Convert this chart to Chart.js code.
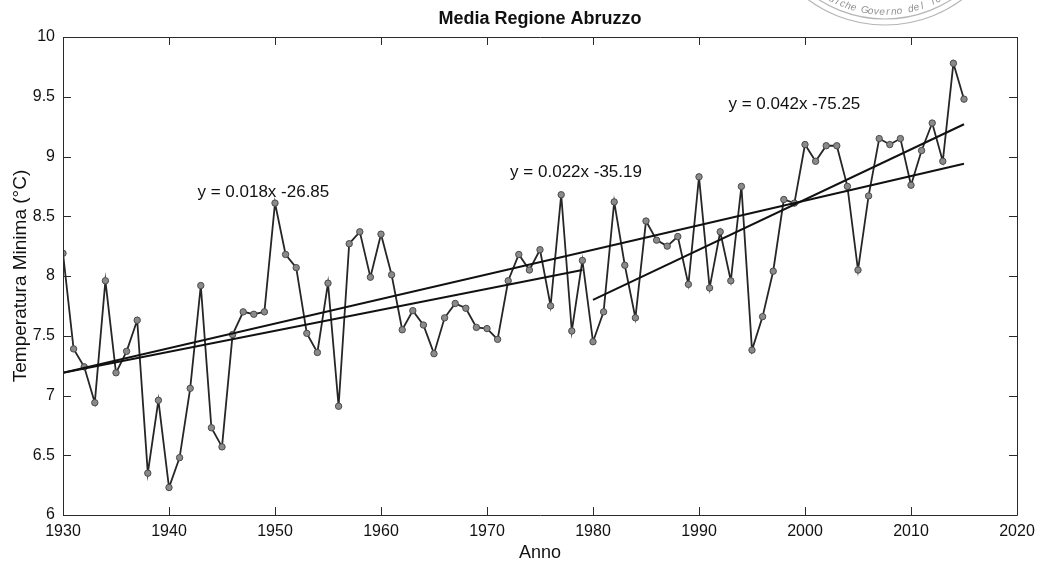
<!DOCTYPE html>
<html>
<head>
<meta charset="utf-8">
<script src="https://cdn.jsdelivr.net/npm/chart.js@4.4.1/dist/chart.umd.min.js"></script>
<style>
  html, body { margin: 0; padding: 0; background: #ffffff; }
  #wrap { width: 1038px; height: 563px; position: relative; }
</style>
</head>
<body>
<div id="wrap"><canvas id="c" width="1038" height="563"></canvas></div>
<script>
// ---- data ----
const years = [1930,1931,1932,1933,1934,1935,1936,1937,1938,1939,
               1940,1941,1942,1943,1944,1945,1946,1947,1948,1949,
               1950,1951,1952,1953,1954,1955,1956,1957,1958,1959,
               1960,1961,1962,1963,1964,1965,1966,1967,1968,1969,
               1970,1971,1972,1973,1974,1975,1976,1977,1978,1979,
               1980,1981,1982,1983,1984,1985,1986,1987,1988,1989,
               1990,1991,1992,1993,1994,1995,1996,1997,1998,1999,
               2000,2001,2002,2003,2004,2005,2006,2007,2008,2009,
               2010,2011,2012,2013,2014,2015];
const tempMin = [8.19,7.39,7.24,6.94,7.96,7.19,7.37,7.63,6.35,6.96,
                 6.23,6.48,7.06,7.92,6.73,6.57,7.51,7.70,7.68,7.70,
                 8.61,8.18,8.07,7.52,7.36,7.94,6.91,8.27,8.37,7.99,
                 8.35,8.01,7.55,7.71,7.59,7.35,7.65,7.77,7.73,7.57,
                 7.56,7.47,7.96,8.18,8.05,8.22,7.75,8.68,7.54,8.13,
                 7.45,7.70,8.62,8.09,7.65,8.46,8.30,8.25,8.33,7.93,
                 8.83,7.90,8.37,7.96,8.75,7.38,7.66,8.04,8.64,8.61,
                 9.10,8.96,9.09,9.09,8.75,8.05,8.67,9.15,9.10,9.15,
                 8.76,9.05,9.28,8.96,9.78,9.48];

// trend lines: endpoints
const trendAllX = [1930, 2015];
const trendAllY = [7.19, 8.94];
const trendEarlyX = [1930, 1979];
const trendEarlyY = [7.19, 8.05];
const trendLateX = [1980, 2015];
const trendLateY = [7.80, 9.27];

// equation labels and their anchor (data coords)
const eqLabels = ["y = 0.018x -26.85", "y = 0.022x -35.19", "y = 0.042x -75.25"];
const eqX = [1948.9, 1978.4, 1999.0];
const eqY = [8.70, 8.87, 9.44];

const chartTitle = "Media Regione Abruzzo";
const xTicks = [1930,1940,1950,1960,1970,1980,1990,2000,2010,2020];
const yTicks = [6,6.5,7,7.5,8,8.5,9,9.5,10];

const FONT = "'Liberation Sans', Arial, Helvetica, sans-serif";

function pts(xs, ys) { return xs.map((x, i) => ({x: x, y: ys[i]})); }

// title over the plot box, inward ticks, box, equations, stamp
const decor = {
  id: 'decor',
  afterDatasetsDraw(chart) {
    const {ctx, chartArea: a, scales: {x, y}} = chart;
    ctx.save();
    ctx.strokeStyle = '#2a2a2a';
    ctx.lineWidth = 1;
    ctx.beginPath();
    ctx.rect(Math.round(a.left) + 0.5, Math.round(a.top) + 0.5,
             Math.round(a.right - a.left), Math.round(a.bottom - a.top));
    ctx.stroke();
    const tl = 8;
    ctx.beginPath();
    xTicks.forEach(v => {
      const px = Math.round(x.getPixelForValue(v)) + 0.5;
      ctx.moveTo(px, a.bottom); ctx.lineTo(px, a.bottom - tl);
      ctx.moveTo(px, a.top); ctx.lineTo(px, a.top + tl);
    });
    yTicks.forEach(v => {
      const py = Math.round(y.getPixelForValue(v)) + 0.5;
      ctx.moveTo(a.left, py); ctx.lineTo(a.left + tl, py);
      ctx.moveTo(a.right, py); ctx.lineTo(a.right - tl, py);
    });
    ctx.stroke();

    ctx.fillStyle = '#111';
    ctx.textAlign = 'center';
    ctx.textBaseline = 'middle';
    ctx.font = 'bold 18px ' + FONT;
    ctx.fillText(chartTitle, (a.left + a.right) / 2, 19);

    ctx.font = '17px ' + FONT;
    eqLabels.forEach((t, i) => {
      ctx.fillText(t, x.getPixelForValue(eqX[i]), y.getPixelForValue(eqY[i]));
    });
    ctx.restore();

    // faint stamp in the top-right corner
    ctx.save();
    const cx = 885, cy = -104;
    ctx.strokeStyle = 'rgba(120,120,120,0.55)';
    ctx.lineWidth = 1.2;
    [129, 123].forEach(r => {
      ctx.beginPath(); ctx.arc(cx, cy, r, 0, Math.PI); ctx.stroke();
    });
    ctx.fillStyle = 'rgba(110,110,110,0.75)';
    ctx.font = 'italic 10px ' + FONT;
    ctx.textAlign = 'center';
    ctx.textBaseline = 'middle';
    const txt = "diche Governo del Te";
    const rT = 116;
    const step = 0.05;
    const start = Math.PI / 2 + (txt.length - 1) * step / 2;
    for (let i = 0; i < txt.length; i++) {
      const ang = start - i * step;
      const px = cx + rT * Math.cos(ang), py = cy + rT * Math.sin(ang);
      ctx.save();
      ctx.translate(px, py);
      ctx.rotate(ang - Math.PI / 2);
      ctx.fillText(txt[i], 0, 0);
      ctx.restore();
    }
    ctx.restore();
  }
};

new Chart(document.getElementById('c'), {
  type: 'line',
  data: {
    datasets: [
      {
        label: 'Temperatura Minima',
        data: pts(years, tempMin),
        borderColor: '#262626',
        borderWidth: 1.8,
        pointRadius: 3.2,
        pointBackgroundColor: '#8a8a8a',
        pointBorderColor: '#4a4a4a',
        pointBorderWidth: 1,
        tension: 0,
        order: 2
      },
      {
        label: 'trend 1930-2015',
        data: pts(trendAllX, trendAllY),
        borderColor: '#111111', borderWidth: 2, pointRadius: 0, order: 1
      },
      {
        label: 'trend 1930-1979',
        data: pts(trendEarlyX, trendEarlyY),
        borderColor: '#111111', borderWidth: 2, pointRadius: 0, order: 1
      },
      {
        label: 'trend 1980-2015',
        data: pts(trendLateX, trendLateY),
        borderColor: '#111111', borderWidth: 2, pointRadius: 0, order: 1
      }
    ]
  },
  options: {
    responsive: false,
    animation: false,
    devicePixelRatio: 1,
    layout: { padding: { top: 37, right: 21, left: 0, bottom: 0 } },
    plugins: {
      legend: { display: false },
      tooltip: { enabled: false },
      title: { display: false }
    },
    scales: {
      x: {
        type: 'linear',
        min: 1930, max: 2020,
        afterBuildTicks(s) { s.ticks = xTicks.map(v => ({value: v})); },
        afterFit(s) { s.height = 48; s.paddingLeft = 0; s.paddingRight = 0; },
        grid: { display: false, drawTicks: false },
        border: { display: false },
        ticks: {
          color: '#111',
          font: { family: FONT, size: 16 },
          padding: 7,
          maxRotation: 0,
          autoSkip: false,
          callback: v => String(v)
        },
        title: {
          display: true, text: 'Anno', color: '#111',
          font: { family: FONT, size: 18 },
          padding: { top: 0, bottom: -1 }
        }
      },
      y: {
        type: 'linear',
        min: 6, max: 10,
        afterBuildTicks(s) { s.ticks = yTicks.map(v => ({value: v})); },
        afterFit(s) { s.width = 63; s.paddingTop = 0; s.paddingBottom = 0; },
        grid: { display: false, drawTicks: false },
        border: { display: false },
        ticks: {
          color: '#111',
          font: { family: FONT, size: 16 },
          padding: 8,
          autoSkip: false,
          callback: v => String(v)
        },
        title: {
          display: true, text: 'Temperatura Minima (°C)', color: '#111',
          font: { family: FONT, size: 19 },
          padding: { top: 9, bottom: 0 }
        }
      }
    }
  },
  plugins: [decor]
});
</script>
</body>
</html>
